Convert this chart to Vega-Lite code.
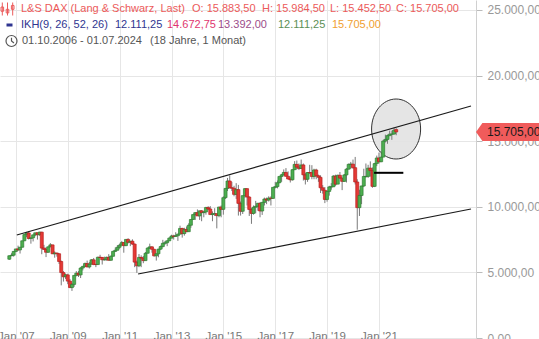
{
  "$schema": "https://vega.github.io/schema/vega-lite/v6.json",
  "width": 476,
  "height": 338,
  "autosize": {"type": "none"},
  "padding": {"left": 0, "top": 0, "right": 63, "bottom": 1},
  "background": "white",
  "config": {
    "font": "Liberation Sans",
    "view": {"stroke": null},
    "axis": {"title": null},
    "locale": {"number": {"decimal": ",", "thousands": ".", "grouping": [3], "currency": ["", " €"]}}
  },
  "datasets": {
    "candles": [
      {"d":"2006-10-01","o":6004,"h":6284,"l":5960,"c":6269},
      {"d":"2006-11-01","o":6269,"h":6461,"l":6240,"c":6309},
      {"d":"2006-12-01","o":6309,"h":6611,"l":6200,"c":6597},
      {"d":"2007-01-01","o":6597,"h":6789,"l":6540,"c":6789},
      {"d":"2007-02-01","o":6789,"h":7040,"l":6640,"c":6716},
      {"d":"2007-03-01","o":6716,"h":6938,"l":6437,"c":6917},
      {"d":"2007-04-01","o":6917,"h":7409,"l":6900,"c":7409},
      {"d":"2007-05-01","o":7409,"h":7884,"l":7400,"c":7884},
      {"d":"2007-06-01","o":7884,"h":8090,"l":7690,"c":8007},
      {"d":"2007-07-01","o":8007,"h":8151,"l":7510,"c":7584},
      {"d":"2007-08-01","o":7584,"h":7600,"l":7190,"c":7638},
      {"d":"2007-09-01","o":7638,"h":7862,"l":7360,"c":7862},
      {"d":"2007-10-01","o":7862,"h":8000,"l":7760,"c":8019},
      {"d":"2007-11-01","o":8019,"h":8040,"l":7500,"c":7871},
      {"d":"2007-12-01","o":7871,"h":8100,"l":7790,"c":8067},
      {"d":"2008-01-01","o":8067,"h":8100,"l":6384,"c":6851},
      {"d":"2008-02-01","o":6851,"h":7100,"l":6710,"c":6748},
      {"d":"2008-03-01","o":6748,"h":6900,"l":6167,"c":6535},
      {"d":"2008-04-01","o":6535,"h":6970,"l":6500,"c":6949},
      {"d":"2008-05-01","o":6949,"h":7231,"l":6920,"c":7097},
      {"d":"2008-06-01","o":7097,"h":7100,"l":6400,"c":6418},
      {"d":"2008-07-01","o":6418,"h":6600,"l":6120,"c":6479},
      {"d":"2008-08-01","o":6479,"h":6500,"l":6200,"c":6422},
      {"d":"2008-09-01","o":6422,"h":6450,"l":5640,"c":5831},
      {"d":"2008-10-01","o":5831,"h":5900,"l":4014,"c":4988},
      {"d":"2008-11-01","o":4988,"h":5100,"l":4300,"c":4669},
      {"d":"2008-12-01","o":4669,"h":4900,"l":4500,"c":4810},
      {"d":"2009-01-01","o":4810,"h":4900,"l":4100,"c":4338},
      {"d":"2009-02-01","o":4338,"h":4500,"l":3800,"c":3844},
      {"d":"2009-03-01","o":3844,"h":4200,"l":3588,"c":4085},
      {"d":"2009-04-01","o":4085,"h":4800,"l":3900,"c":4770},
      {"d":"2009-05-01","o":4770,"h":5100,"l":4700,"c":4941},
      {"d":"2009-06-01","o":4941,"h":5100,"l":4650,"c":4809},
      {"d":"2009-07-01","o":4809,"h":5400,"l":4570,"c":5332},
      {"d":"2009-08-01","o":5332,"h":5500,"l":5150,"c":5458},
      {"d":"2009-09-01","o":5458,"h":5750,"l":5400,"c":5675},
      {"d":"2009-10-01","o":5675,"h":5900,"l":5400,"c":5415},
      {"d":"2009-11-01","o":5415,"h":5800,"l":5300,"c":5626},
      {"d":"2009-12-01","o":5626,"h":6010,"l":5600,"c":5957},
      {"d":"2010-01-01","o":5957,"h":6100,"l":5550,"c":5608},
      {"d":"2010-02-01","o":5608,"h":5650,"l":5400,"c":5598},
      {"d":"2010-03-01","o":5598,"h":6200,"l":5580,"c":6154},
      {"d":"2010-04-01","o":6154,"h":6340,"l":6100,"c":6136},
      {"d":"2010-05-01","o":6136,"h":6180,"l":5600,"c":5964},
      {"d":"2010-06-01","o":5964,"h":6200,"l":5900,"c":5966},
      {"d":"2010-07-01","o":5966,"h":6200,"l":5900,"c":6148},
      {"d":"2010-08-01","o":6148,"h":6390,"l":5900,"c":5925},
      {"d":"2010-09-01","o":5925,"h":6300,"l":5900,"c":6229},
      {"d":"2010-10-01","o":6229,"h":6650,"l":6200,"c":6601},
      {"d":"2010-11-01","o":6601,"h":6900,"l":6550,"c":6688},
      {"d":"2010-12-01","o":6688,"h":7080,"l":6680,"c":6914},
      {"d":"2011-01-01","o":6914,"h":7190,"l":6800,"c":7077},
      {"d":"2011-02-01","o":7077,"h":7400,"l":7050,"c":7273},
      {"d":"2011-03-01","o":7273,"h":7300,"l":6500,"c":7041},
      {"d":"2011-04-01","o":7041,"h":7520,"l":7000,"c":7514},
      {"d":"2011-05-01","o":7514,"h":7600,"l":7200,"c":7294},
      {"d":"2011-06-01","o":7294,"h":7400,"l":7000,"c":7376},
      {"d":"2011-07-01","o":7376,"h":7520,"l":7100,"c":7159},
      {"d":"2011-08-01","o":7159,"h":7200,"l":5400,"c":5785},
      {"d":"2011-09-01","o":5785,"h":5900,"l":4966,"c":5502},
      {"d":"2011-10-01","o":5502,"h":6400,"l":5400,"c":6141},
      {"d":"2011-11-01","o":6141,"h":6300,"l":5400,"c":6089},
      {"d":"2011-12-01","o":6089,"h":6250,"l":5700,"c":5898},
      {"d":"2012-01-01","o":5898,"h":6550,"l":5900,"c":6458},
      {"d":"2012-02-01","o":6458,"h":6900,"l":6450,"c":6856},
      {"d":"2012-03-01","o":6856,"h":7190,"l":6780,"c":6947},
      {"d":"2012-04-01","o":6947,"h":7000,"l":6500,"c":6761},
      {"d":"2012-05-01","o":6761,"h":6800,"l":6200,"c":6264},
      {"d":"2012-06-01","o":6264,"h":6450,"l":5900,"c":6416},
      {"d":"2012-07-01","o":6416,"h":6800,"l":6150,"c":6772},
      {"d":"2012-08-01","o":6772,"h":7050,"l":6700,"c":6971},
      {"d":"2012-09-01","o":6971,"h":7480,"l":6900,"c":7216},
      {"d":"2012-10-01","o":7216,"h":7400,"l":7100,"c":7260},
      {"d":"2012-11-01","o":7260,"h":7450,"l":7000,"c":7406},
      {"d":"2012-12-01","o":7406,"h":7680,"l":7400,"c":7612},
      {"d":"2013-01-01","o":7612,"h":7870,"l":7600,"c":7776},
      {"d":"2013-02-01","o":7776,"h":7870,"l":7500,"c":7742},
      {"d":"2013-03-01","o":7742,"h":8060,"l":7700,"c":7795},
      {"d":"2013-04-01","o":7795,"h":7950,"l":7400,"c":7914},
      {"d":"2013-05-01","o":7914,"h":8560,"l":7900,"c":8348},
      {"d":"2013-06-01","o":8348,"h":8400,"l":7650,"c":7959},
      {"d":"2013-07-01","o":7959,"h":8400,"l":7800,"c":8276},
      {"d":"2013-08-01","o":8276,"h":8500,"l":8100,"c":8103},
      {"d":"2013-09-01","o":8103,"h":8750,"l":8100,"c":8594},
      {"d":"2013-10-01","o":8594,"h":9050,"l":8400,"c":9033},
      {"d":"2013-11-01","o":9033,"h":9420,"l":9000,"c":9406},
      {"d":"2013-12-01","o":9406,"h":9600,"l":9000,"c":9552},
      {"d":"2014-01-01","o":9552,"h":9800,"l":9300,"c":9306},
      {"d":"2014-02-01","o":9306,"h":9700,"l":9000,"c":9692},
      {"d":"2014-03-01","o":9692,"h":9750,"l":8900,"c":9556},
      {"d":"2014-04-01","o":9556,"h":9700,"l":9200,"c":9603},
      {"d":"2014-05-01","o":9603,"h":10000,"l":9400,"c":9943},
      {"d":"2014-06-01","o":9943,"h":10050,"l":9750,"c":9833},
      {"d":"2014-07-01","o":9833,"h":10050,"l":9400,"c":9407},
      {"d":"2014-08-01","o":9407,"h":9650,"l":8900,"c":9470},
      {"d":"2014-09-01","o":9470,"h":9890,"l":9300,"c":9474},
      {"d":"2014-10-01","o":9474,"h":9500,"l":8355,"c":9327},
      {"d":"2014-11-01","o":9327,"h":10000,"l":9200,"c":9980},
      {"d":"2014-12-01","o":9980,"h":10100,"l":9200,"c":9806},
      {"d":"2015-01-01","o":9806,"h":10800,"l":9400,"c":10694},
      {"d":"2015-02-01","o":10694,"h":11400,"l":10600,"c":11402},
      {"d":"2015-03-01","o":11402,"h":12200,"l":11200,"c":11966},
      {"d":"2015-04-01","o":11966,"h":12390,"l":11400,"c":11454},
      {"d":"2015-05-01","o":11454,"h":11900,"l":11200,"c":11414},
      {"d":"2015-06-01","o":11414,"h":11600,"l":10800,"c":10945},
      {"d":"2015-07-01","o":10945,"h":11800,"l":10600,"c":11309},
      {"d":"2015-08-01","o":11309,"h":11670,"l":9330,"c":10259},
      {"d":"2015-09-01","o":10259,"h":10400,"l":9330,"c":9660},
      {"d":"2015-10-01","o":9660,"h":10850,"l":9450,"c":10850},
      {"d":"2015-11-01","o":10850,"h":11430,"l":10700,"c":11382},
      {"d":"2015-12-01","o":11382,"h":11400,"l":10100,"c":10743},
      {"d":"2016-01-01","o":10743,"h":10800,"l":9300,"c":9798},
      {"d":"2016-02-01","o":9798,"h":9900,"l":8700,"c":9495},
      {"d":"2016-03-01","o":9495,"h":10100,"l":9400,"c":9966},
      {"d":"2016-04-01","o":9966,"h":10450,"l":9500,"c":10039},
      {"d":"2016-05-01","o":10039,"h":10300,"l":9700,"c":10263},
      {"d":"2016-06-01","o":10263,"h":10350,"l":9200,"c":9680},
      {"d":"2016-07-01","o":9680,"h":10350,"l":9380,"c":10337},
      {"d":"2016-08-01","o":10337,"h":10700,"l":10100,"c":10593},
      {"d":"2016-09-01","o":10593,"h":10700,"l":10200,"c":10511},
      {"d":"2016-10-01","o":10511,"h":10800,"l":10400,"c":10665},
      {"d":"2016-11-01","o":10665,"h":10800,"l":10100,"c":10640},
      {"d":"2016-12-01","o":10640,"h":11500,"l":10600,"c":11481},
      {"d":"2017-01-01","o":11481,"h":11900,"l":11400,"c":11535},
      {"d":"2017-02-01","o":11535,"h":12000,"l":11400,"c":11834},
      {"d":"2017-03-01","o":11834,"h":12300,"l":11800,"c":12313},
      {"d":"2017-04-01","o":12313,"h":12500,"l":11900,"c":12438},
      {"d":"2017-05-01","o":12438,"h":12850,"l":12400,"c":12615},
      {"d":"2017-06-01","o":12615,"h":12950,"l":12300,"c":12325},
      {"d":"2017-07-01","o":12325,"h":12700,"l":12100,"c":12118},
      {"d":"2017-08-01","o":12118,"h":12300,"l":11850,"c":12056},
      {"d":"2017-09-01","o":12056,"h":12850,"l":12000,"c":12829},
      {"d":"2017-10-01","o":12829,"h":13480,"l":12800,"c":13230},
      {"d":"2017-11-01","o":13230,"h":13525,"l":12850,"c":13024},
      {"d":"2017-12-01","o":13024,"h":13300,"l":12800,"c":12918},
      {"d":"2018-01-01","o":12918,"h":13600,"l":12900,"c":13189},
      {"d":"2018-02-01","o":13189,"h":13300,"l":12000,"c":12436},
      {"d":"2018-03-01","o":12436,"h":12600,"l":11700,"c":12097},
      {"d":"2018-04-01","o":12097,"h":12650,"l":11900,"c":12612},
      {"d":"2018-05-01","o":12612,"h":13200,"l":12500,"c":12605},
      {"d":"2018-06-01","o":12605,"h":13170,"l":12100,"c":12306},
      {"d":"2018-07-01","o":12306,"h":12900,"l":12100,"c":12806},
      {"d":"2018-08-01","o":12806,"h":12900,"l":12100,"c":12364},
      {"d":"2018-09-01","o":12364,"h":12450,"l":11900,"c":12247},
      {"d":"2018-10-01","o":12247,"h":12400,"l":11050,"c":11448},
      {"d":"2018-11-01","o":11448,"h":11650,"l":11000,"c":11257},
      {"d":"2018-12-01","o":11257,"h":11500,"l":10280,"c":10559},
      {"d":"2019-01-01","o":10559,"h":11250,"l":10390,"c":11173},
      {"d":"2019-02-01","o":11173,"h":11600,"l":10850,"c":11516},
      {"d":"2019-03-01","o":11516,"h":11800,"l":11300,"c":11526},
      {"d":"2019-04-01","o":11526,"h":12400,"l":11500,"c":12344},
      {"d":"2019-05-01","o":12344,"h":12450,"l":11600,"c":11727},
      {"d":"2019-06-01","o":11727,"h":12450,"l":11800,"c":12399},
      {"d":"2019-07-01","o":12399,"h":12650,"l":12150,"c":12189},
      {"d":"2019-08-01","o":12189,"h":12200,"l":11270,"c":11939},
      {"d":"2019-09-01","o":11939,"h":12500,"l":11900,"c":12428},
      {"d":"2019-10-01","o":12428,"h":12950,"l":11850,"c":12867},
      {"d":"2019-11-01","o":12867,"h":13300,"l":12850,"c":13236},
      {"d":"2019-12-01","o":13236,"h":13420,"l":12900,"c":13249},
      {"d":"2020-01-01","o":13249,"h":13600,"l":12900,"c":12981},
      {"d":"2020-02-01","o":12981,"h":13800,"l":11700,"c":11890},
      {"d":"2020-03-01","o":11890,"h":12100,"l":8255,"c":9936},
      {"d":"2020-04-01","o":9936,"h":11300,"l":9300,"c":10862},
      {"d":"2020-05-01","o":10862,"h":11600,"l":10200,"c":11587},
      {"d":"2020-06-01","o":11587,"h":12900,"l":11500,"c":12311},
      {"d":"2020-07-01","o":12311,"h":13300,"l":12200,"c":12313},
      {"d":"2020-08-01","o":12313,"h":13200,"l":12200,"c":12945},
      {"d":"2020-09-01","o":12945,"h":13460,"l":12300,"c":12761},
      {"d":"2020-10-01","o":12761,"h":13000,"l":11450,"c":11556},
      {"d":"2020-11-01","o":11556,"h":13350,"l":11500,"c":13291},
      {"d":"2020-12-01","o":13291,"h":13900,"l":13100,"c":13719},
      {"d":"2021-01-01","o":13719,"h":14130,"l":13300,"c":13433},
      {"d":"2021-02-01","o":13433,"h":14200,"l":13400,"c":13786},
      {"d":"2021-03-01","o":13786,"h":15100,"l":13800,"c":15008},
      {"d":"2021-04-01","o":15008,"h":15500,"l":14900,"c":15136},
      {"d":"2021-05-01","o":15136,"h":15500,"l":14800,"c":15421},
      {"d":"2021-06-01","o":15421,"h":15800,"l":15400,"c":15531},
      {"d":"2021-07-01","o":15531,"h":15800,"l":15100,"c":15544},
      {"d":"2021-08-01","o":15544,"h":16030,"l":15500,"c":15835},
      {"d":"2021-09-01","o":15883.5,"h":15984.5,"l":15452.5,"c":15705}
    ],
    "trend": [
      {"line":"upper","d":"2007-01-14","v":7850},
      {"line":"upper","d":"2024-07-20","v":17681},
      {"line":"lower","d":"2011-09-18","v":4877},
      {"line":"lower","d":"2024-07-20","v":9831}
    ],
    "support": [
      {"d":"2020-10-24","v":12590},
      {"d":"2021-12-10","v":12590}
    ],
    "circle": [{"d":"2021-08-30","v":15928}],
    "last": [{"v":15705}],
    "one": [{}]
  },
  "layer": [
    {
      "data": {"name": "circle"},
      "mark": {"type": "point", "shape": "M0.817,0 A0.817,1 0 1,1 -0.817,0 A0.817,1 0 1,1 0.817,0 Z", "size": 3600, "filled": true, "fill": "#e2e2e2", "fillOpacity": 0.9, "stroke": "#333333", "strokeWidth": 1, "opacity": 1},
      "encoding": {
        "x": {
          "field": "d", "type": "temporal",
          "scale": {"domain": [{"year": 2006, "month": 8, "date": 1}, {"year": 2024, "month": 7, "date": 20}]},
          "axis": {
            "values": [{"year":2007,"month":1,"date":1},{"year":2009,"month":1,"date":1},{"year":2011,"month":1,"date":1},{"year":2013,"month":1,"date":1},{"year":2015,"month":1,"date":1},{"year":2017,"month":1,"date":1},{"year":2019,"month":1,"date":1},{"year":2021,"month":1,"date":1}],
            "format": "%b '%y",
            "domain": false, "ticks": false, "labelPadding": -8,
            "labelColor": "#777777", "labelFontSize": 11.5, "labelFlush": false, "labelOverlap": false,
            "grid": true, "gridColor": "#e6e6e6", "gridWidth": 1
          }
        },
        "y": {
          "field": "v", "type": "quantitative",
          "scale": {"domain": [0, 25760], "nice": false, "zero": true},
          "axis": {
            "orient": "right",
            "values": [0, 5000, 10000, 15000, 20000, 25000],
            "format": ",.2f",
            "domain": true, "domainColor": "#d0d0d0",
            "ticks": true, "tickSize": 6, "tickColor": "#bbbbbb",
            "labelPadding": 5, "labelColor": "#999999", "labelFontSize": 12,
            "grid": true, "gridColor": "#e6e6e6", "gridWidth": 1
          }
        }
      }
    },
    {
      "data": {"name": "candles"},
      "mark": {"type": "rule", "color": "#7a7a7a", "strokeWidth": 1},
      "encoding": {
        "x": {"field": "d", "type": "temporal"},
        "y": {"field": "l", "type": "quantitative"},
        "y2": {"field": "h"}
      }
    },
    {
      "data": {"name": "candles"},
      "mark": {"type": "bar", "size": 3, "strokeWidth": 0.7},
      "encoding": {
        "x": {"field": "d", "type": "temporal"},
        "y": {"field": "o", "type": "quantitative"},
        "y2": {"field": "c"},
        "fill": {"condition": {"test": "datum.c >= datum.o", "value": "#4caf50"}, "value": "#e53935"},
        "stroke": {"condition": {"test": "datum.c >= datum.o", "value": "#2e7d32"}, "value": "#b71c1c"}
      }
    },
    {
      "data": {"name": "trend"},
      "mark": {"type": "line", "color": "#1a1a1a", "strokeWidth": 1.2},
      "encoding": {
        "x": {"field": "d", "type": "temporal"},
        "y": {"field": "v", "type": "quantitative"},
        "detail": {"field": "line"}
      }
    },
    {
      "data": {"name": "support"},
      "mark": {"type": "line", "color": "#000000", "strokeWidth": 2},
      "encoding": {
        "x": {"field": "d", "type": "temporal"},
        "y": {"field": "v", "type": "quantitative"}
      }
    },
    {
      "data": {"name": "last"},
      "mark": {"type": "point", "shape": "M0,0 L0.4,-0.56 L4,-0.56 L4,0.56 L0.4,0.56 Z", "size": 1024, "filled": true, "fill": "#f05b5b", "stroke": null, "opacity": 1},
      "encoding": {
        "x": {"value": "width"},
        "y": {"field": "v", "type": "quantitative"}
      }
    },
    {
      "data": {"name": "last"},
      "mark": {"type": "text", "align": "left", "baseline": "middle", "dx": 11, "fontSize": 12, "color": "#1a1a1a"},
      "encoding": {
        "x": {"value": "width"},
        "y": {"field": "v", "type": "quantitative"},
        "text": {"field": "v", "type": "quantitative", "format": ",.2f"}
      }
    },
    {"data": {"name": "one"}, "mark": {"type": "point", "shape": "M-0.8,-1 L-0.8,1 M0,-1 L0,1 M0.8,-1 L0.8,1 M-1,-0.3 L-0.6,-0.3 L-0.6,0.35 L-1,0.35 Z M-0.2,0.05 L0.2,0.05 L0.2,0.6 L-0.2,0.6 Z M0.6,-0.55 L1,-0.55 L1,0.05 L0.6,0.05 Z", "size": 169, "filled": false, "stroke": "#ec5a5a", "strokeWidth": 1, "x": 7.5, "y": 9, "opacity": 1}, "encoding": {}},
    {"data": {"name": "one"}, "mark": {"type": "point", "shape": "M-1,-0.5 L1,-0.5 L1,0.5 L-1,0.5 Z", "size": 36, "filled": true, "fill": "#2f3590", "stroke": null, "x": 9.5, "y": 25, "opacity": 1}, "encoding": {}},
    {"data": {"name": "one"}, "mark": {"type": "point", "shape": "M1,0 A1,1 0 1,1 -1,0 A1,1 0 1,1 1,0 M0,-0.6 L0,0 L0.45,0.35", "size": 121, "filled": false, "stroke": "#555555", "strokeWidth": 1.2, "x": 11.5, "y": 41, "opacity": 1}, "encoding": {}},
    {"data": {"name": "one"}, "mark": {"type": "text", "text": "L&S DAX (Lang & Schwarz, Last)", "x": 21, "y": 9, "align": "left", "baseline": "middle", "fontSize": 11, "color": "#ec5a5a"}, "encoding": {}},
    {"data": {"name": "one"}, "mark": {"type": "text", "text": "O: 15.883,50", "x": 192, "y": 9, "align": "left", "baseline": "middle", "fontSize": 11, "color": "#ec5a5a"}, "encoding": {}},
    {"data": {"name": "one"}, "mark": {"type": "text", "text": "H: 15.984,50", "x": 262, "y": 9, "align": "left", "baseline": "middle", "fontSize": 11, "color": "#ec5a5a"}, "encoding": {}},
    {"data": {"name": "one"}, "mark": {"type": "text", "text": "L: 15.452,50", "x": 330, "y": 9, "align": "left", "baseline": "middle", "fontSize": 11, "color": "#ec5a5a"}, "encoding": {}},
    {"data": {"name": "one"}, "mark": {"type": "text", "text": "C: 15.705,00", "x": 396, "y": 9, "align": "left", "baseline": "middle", "fontSize": 11, "color": "#ec5a5a"}, "encoding": {}},
    {"data": {"name": "one"}, "mark": {"type": "text", "text": "IKH(9, 26, 52, 26)", "x": 21, "y": 25, "align": "left", "baseline": "middle", "fontSize": 11, "color": "#2f3590"}, "encoding": {}},
    {"data": {"name": "one"}, "mark": {"type": "text", "text": "12.111,25", "x": 115, "y": 25, "align": "left", "baseline": "middle", "fontSize": 11, "color": "#2f3590"}, "encoding": {}},
    {"data": {"name": "one"}, "mark": {"type": "text", "text": "14.672,75", "x": 167, "y": 25, "align": "left", "baseline": "middle", "fontSize": 11, "color": "#e0356e"}, "encoding": {}},
    {"data": {"name": "one"}, "mark": {"type": "text", "text": "13.392,00", "x": 218, "y": 25, "align": "left", "baseline": "middle", "fontSize": 11, "color": "#9b4d8a"}, "encoding": {}},
    {"data": {"name": "one"}, "mark": {"type": "text", "text": "12.111,25", "x": 278, "y": 25, "align": "left", "baseline": "middle", "fontSize": 11, "color": "#5b8f55"}, "encoding": {}},
    {"data": {"name": "one"}, "mark": {"type": "text", "text": "15.705,00", "x": 332, "y": 25, "align": "left", "baseline": "middle", "fontSize": 11, "color": "#f0a030"}, "encoding": {}},
    {"data": {"name": "one"}, "mark": {"type": "text", "text": "01.10.2006 - 01.07.2024", "x": 22, "y": 41, "align": "left", "baseline": "middle", "fontSize": 11, "color": "#555555"}, "encoding": {}},
    {"data": {"name": "one"}, "mark": {"type": "text", "text": "(18 Jahre, 1 Monat)", "x": 150, "y": 41, "align": "left", "baseline": "middle", "fontSize": 11, "color": "#555555"}, "encoding": {}}
  ]
}
